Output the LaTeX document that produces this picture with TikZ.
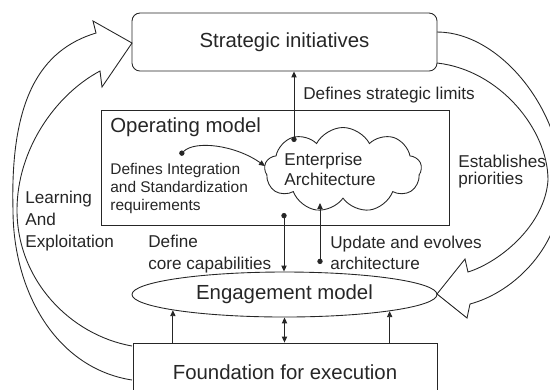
\documentclass[tikz,border=0pt]{standalone}
\usepackage{fontspec}
\setmainfont{Liberation Sans}
\usepackage{tikz}
\usetikzlibrary{arrows.meta,shapes.geometric,shapes.symbols}
\newcommand{\inkcolor}{black!85}
\newcommand{\thickness}{0.5pt}
\newcommand{\boxfont}{\fontsize{11.6pt}{14pt}\selectfont}
\newcommand{\lblfont}{\fontsize{9.75pt}{12.5pt}\selectfont}
\newcommand{\notefont}{\fontsize{8.8pt}{10.2pt}\selectfont}
\tikzset{
  box/.style={draw=\inkcolor, line width=\thickness, inner sep=0pt, text=\inkcolor},
  lbl/.style={anchor=base west, inner sep=0pt, align=left, text=\inkcolor, font=\lblfont},
  link/.style={draw=\inkcolor, line width=\thickness, -{Triangle[width=3pt,length=3.4pt]}},
  dotlink/.style={link, {Circle[length=3pt]}-{Triangle[width=3pt,length=3.4pt]}},
  twolink/.style={link, {Triangle[width=3pt,length=3.4pt]}-{Triangle[width=3pt,length=3.4pt]}},
  bigarrow/.style={draw=\inkcolor, line width=\thickness, line join=miter}
}

\begin{document}
\begin{tikzpicture}
\useasboundingbox (0, 0) rectangle (11, -7.78);
\clip (0, 0) rectangle (11, -7.78);
%boxes
\node[box] (si) at (5.69, -0.84) [rounded corners=0.16cm, minimum width=6.1cm, minimum height=1.16cm, font=\boxfont] {Strategic initiatives};
\node[box] (om) at (5.5, -3.35) [minimum width=6.96cm, minimum height=2.3cm] {};
\node[box] (em) at (5.69, -5.89) [ellipse, minimum width=6.1cm, minimum height=0.9cm, font=\boxfont] {Engagement model};
\node[box] (fe) at (5.7, -7.44) [minimum width=6.08cm, minimum height=1.16cm, font=\boxfont] {Foundation for execution};
\node[box] (ea) at (6.86, -3.4) [cloud, cloud puffs=9, cloud puff arc=125, cloud ignores aspect, minimum width=3.14cm, minimum height=1.7cm] {};
%texts inside the operating model (base is the last line)
\node[lbl, font=\boxfont] (omt) at (2.2, -2.64) {Operating model};
\node[lbl, font=\notefont] (ist) at (2.2, -4.2) {Defines Integration\\and Standardization\\requirements};
\node[lbl, font={\fontsize{9.75pt}{11.3pt}\selectfont}] (eat) at (5.68, -3.7) {Enterprise\\Architecture};
%labels
\node[lbl] (dsl) at (6.06, -1.98) {Defines strategic limits};
\node[lbl, font={\fontsize{9.75pt}{9.6pt}\selectfont}] (ep) at (9.16, -3.68) {Establishes\\priorities};
\node[lbl] (lae) at (0.5, -4.94) {Learning\\And\\Exploitation};
\node[lbl] (dcc) at (2.96, -5.38) {Define\\core capabilities};
\node[lbl, font={\fontsize{9.75pt}{11.9pt}\selectfont}] (uea) at (6.6, -5.38) {Update and evolves\\architecture};
%connectors
\coordinate (d1) at (5.88, -2.84);
\coordinate (ia) at (3.6, -3.1);
\coordinate (ie) at (5.3, -3.32);
\coordinate (d3) at (5.68, -4.26);
\coordinate (d4) at (6.4, -5.28);
\coordinate (u4) at (6.4, -4.06);
\draw[dotlink] (d1) -- (d1 |- si.south);
\draw[dotlink] (ia) .. controls (3.9, -2.8) and (4.7, -2.9) .. (ie);
\draw[dotlink] (d3) -- (d3 |- em.north);
\draw[dotlink] (d4) -- (u4);
\draw[twolink] (em.south) -- (em.south |- fe.north);
\draw[link] (fe.north -| em.188.6) -- (em.188.6);
\draw[link] (fe.north -| em.351.5) -- (em.351.5);
%learning and exploitation
\draw[bigarrow] (2.64, -7.6) .. controls (1.1, -7.36) and (0.26, -5.8) .. (0.26, -4.2)
  .. controls (0.2, -2.0) and (0.8, -1.0) .. (1.92, -0.66)
  -- (1.86, -0.42) -- (2.64, -0.86) -- (2.04, -1.74) -- (2.0, -1.42)
  .. controls (1.1, -1.9) and (0.34, -3.0) .. (0.34, -4.2)
  .. controls (0.34, -5.6) and (1.4, -6.7) .. (2.64, -6.92);
%establishes priorities
\draw[bigarrow] (8.74, -0.64) .. controls (10.0, -0.64) and (11.24, -2.2) .. (11.24, -3.7)
  .. controls (11.24, -4.9) and (10.3, -5.84) .. (9.4, -6.08)
  -- (9.34, -6.36) -- (8.74, -5.88) -- (9.3, -5.18) -- (9.36, -5.44)
  .. controls (10.0, -5.24) and (10.9, -4.5) .. (10.96, -3.6)
  .. controls (10.96, -2.6) and (10.0, -1.4) .. (8.74, -1.26);
\end{tikzpicture}
\end{document}
